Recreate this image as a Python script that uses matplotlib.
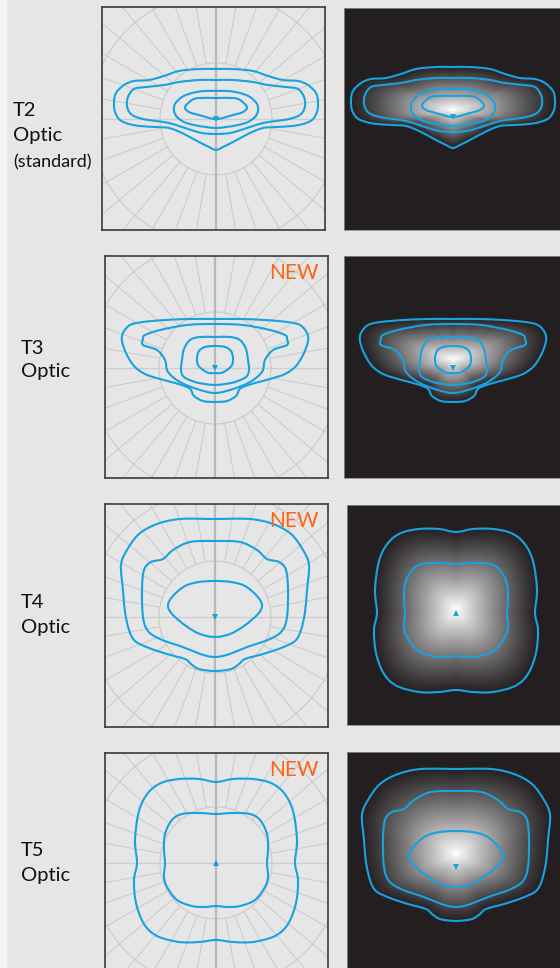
import matplotlib.pyplot as plt
import numpy as np
from matplotlib.patches import Rectangle, PathPatch
from matplotlib.path import Path

plt.rcParams['font.family'] = ['Lato', 'DejaVu Sans']

# isolines, right half only (mirror-symmetric), px from the aiming point, top -> bottom
t2_lines = [
    [(0, 50), (17, 50), (37, 48), (52, 43), (67, 39), (82, 38), (92, 34), (100, 26), (102, 17),
     (101, 7), (96, -1), (87, -5), (76, -7), (61, -8), (47, -9), (34, -14), (17, -23), (7, -28), (0, -31)],
    [(0, 39), (17, 39), (37, 37), (52, 34), (70, 32), (82, 30), (88, 22), (89, 13), (86, 6), (80, 2),
     (68, -1), (52, -3), (40, -6), (28, -10), (14, -14), (0, -15)],
    [(0, 28), (12, 28), (24, 26), (34, 22), (41, 15), (42, 8), (39, 2), (32, -3), (22, -6), (10, -8), (0, -9)],
    [(0, 21), (17, 21), (24, 19), (31, 12), (27, 7), (17, 4), (0, 0)],
]
t3_lines = [
    [(0, 49), (25, 49), (50, 48), (72, 46), (85, 43), (92, 35), (93, 27), (89, 15), (81, 2), (70, -6),
     (55, -11), (40, -15), (28, -19), (24, -22), (21, -28), (12, -33), (0, -34)],
    [(0, 44), (28, 43), (55, 38), (70, 33), (72, 29), (72, 23), (58, 18), (50, 8), (47, -4), (35, -14),
     (18, -21), (0, -25)],
    [(0, 31), (15, 31), (25, 28), (31, 19), (33, 8), (34, -2), (31, -9), (20, -14), (10, -16), (0, -17)],
    [(0, 22), (10, 21), (16, 17), (18, 10), (17, 3), (12, -2), (6, -5), (0, -5)],
]
t4_lines = [
    [(0, 98), (35, 98), (58, 93), (76, 83), (88, 67), (94, 52), (92, 27), (90, 5), (86, -13), (80, -24),
     (66, -31), (48, -37), (30, -42), (24, -47), (16, -52), (0, -54)],
    [(0, 76), (25, 75), (42, 67), (52, 58), (64, 55), (71, 47), (73, 27), (72, 0), (67, -14), (55, -22),
     (35, -29), (0, -40)],
    [(0, 36), (16, 35), (30, 31), (42, 21), (47, 12), (43, 3), (29, -9), (15, -17), (0, -20)],
]
t5_lines = [
    [(0, 81), (17, 84), (37, 84), (55, 80), (68, 70), (77, 52), (81, 23), (79, 0), (82, -17), (80, -40),
     (72, -61), (59, -73), (37, -79), (17, -79), (0, -77)],
    [(0, 49), (17, 50), (34, 49), (44, 43), (51, 29), (52, 13), (51, 0), (52, -14), (49, -24), (39, -37),
     (24, -43), (11, -44), (0, -43)],
]

optic_names = ['T2', 'T3', 'T4', 'T5']
optic_lines = [t2_lines, t3_lines, t4_lines, t5_lines]
optic_marker = ['v', 'v', 'v', '^']
is_new = [False, True, True, True]
# the photo panel of row 3 shows the T5 pattern and row 4 the T4 one
photo_optic = [0, 1, 3, 2]
glow_shift = [7, 9, 13, 3]   # bright spot sits a bit above the aiming point

W, H = 560, 968
BLUE = '#17a2e0'
GRID = '#cacaca'
DARK = '#231f20'

# (box x0, y0, x1, y1) and aiming point, in figure pixels
left_boxes = [((102, 7, 325, 230), (216, 119)), ((105, 256, 328, 478), (215, 368)),
              ((105, 504, 328, 727), (215, 617)), ((105, 753, 328, 976), (216, 863))]
right_boxes = [((344, 8, 561, 230), (453, 117)), ((344, 256, 561, 478), (453, 368)),
               ((347, 505, 561, 725), (456, 613)), ((347, 752, 561, 976), (456, 867))]
label_pos = [(13, 111, 135, 162), (21, 349, 372, None), (21, 603, 627, None), (21, 851, 875, None)]

fig = plt.figure(figsize=(W / 100, H / 100), dpi=100)
fig.patch.set_facecolor('#e6e6e6')
fig.patches.append(Rectangle((0, 0), 7 / W, 1, transform=fig.transFigure,
                             facecolor='#f4f4f4', edgecolor='none', zorder=0))


def px_axes(box, centre):
    x0, y0, x1, y1 = box
    cx, cy = centre
    ax = fig.add_axes([x0 / W, 1 - y1 / H, (x1 - x0) / W, (y1 - y0) / H])
    ax.set_xlim(x0 - cx, x1 - cx)
    ax.set_ylim(cy - y1, cy - y0)
    ax.set_xticks([])
    ax.set_yticks([])
    return ax


def closed(half):
    half = np.array(half, dtype=float)
    mirror = half[-2:0:-1] * [-1, 1]
    return np.vstack([half, mirror])


def draw_isoline(ax, half):
    # smooth closed curve through the read points (cubic Bezier segments)
    pts = closed(half)
    n = len(pts)
    verts = [pts[0]]
    codes = [Path.MOVETO]
    for j in range(n):
        p0, p1, p2, p3 = pts[j - 1], pts[j], pts[(j + 1) % n], pts[(j + 2) % n]
        verts += [p1 + (p2 - p0) / 6, p2 - (p3 - p1) / 6, p2]
        codes += [Path.CURVE4] * 3
    ax.add_patch(PathPatch(Path(verts, codes), fill=False, edgecolor=BLUE, lw=1.5,
                           joinstyle='round', zorder=3))


for i in range(4):
    # polar grid panel
    box, c = left_boxes[i]
    ax = px_axes(box, c)
    ax.set_facecolor('#e6e6e6')
    th = np.linspace(0, 2 * np.pi, 400)
    for r in (56, 126):
        ax.plot(r * np.cos(th), r * np.sin(th), color=GRID, lw=0.8, zorder=1)
    for a in np.deg2rad(np.arange(0, 360, 10)):
        ax.plot([56 * np.cos(a), 260 * np.cos(a)], [56 * np.sin(a), 260 * np.sin(a)],
                color=GRID, lw=0.7, zorder=1)
    ax.axhline(0, color='#cfcfcf', lw=1.0, zorder=1)
    ax.axvline(0, color='#b8b8b8', lw=1.6, zorder=1)
    for half in optic_lines[i]:
        draw_isoline(ax, half)
    ax.plot(0, 0, marker=optic_marker[i], color=BLUE, ms=4.5, mew=0, zorder=4)
    for s in ax.spines.values():
        s.set_color('#3a3a3a')
        s.set_linewidth(1.2)
    if is_new[i]:
        ax.text(0.96, 0.925, 'NEW', transform=ax.transAxes, ha='right', va='center',
                color='#ff6414', fontsize=15)

    # rendered light pattern panel
    k = photo_optic[i]
    box, c = right_boxes[i]
    ax = px_axes(box, c)
    ax.set_facecolor(DARK)
    x0, x1 = ax.get_xlim()
    y0, y1 = ax.get_ylim()
    gx, gy = np.meshgrid(np.linspace(x0, x1, 300), np.linspace(y0, y1, 300))
    outer = closed(optic_lines[k][0])
    ox, oy = outer[:, 0], outer[:, 1] - glow_shift[k]
    ang = np.arctan2(oy, ox)
    rad = np.hypot(ox, oy)
    order = np.argsort(ang)
    pa = gy - glow_shift[k]
    rmax = np.interp(np.arctan2(pa, gx), ang[order], rad[order], period=2 * np.pi)
    t = np.hypot(gx, pa) / (1.03 * rmax)
    v = np.clip(1 - t, 0, 1) ** 1.2
    dark = np.array([0x23, 0x1f, 0x20]) / 255
    img = dark + (1 - dark) * v[..., None]
    ax.imshow(img, extent=(x0, x1, y0, y1), origin='lower', aspect='auto',
              interpolation='bilinear', zorder=1)
    for half in optic_lines[k]:
        draw_isoline(ax, half)
    ax.plot(0, 0, marker=optic_marker[k], color=BLUE, ms=4.5, mew=0, zorder=4)
    for s in ax.spines.values():
        s.set_color('#8a8a8a')
        s.set_linewidth(0.6)

    # row label
    lx, y_a, y_b, y_c = label_pos[i]
    fig.text(lx / W, 1 - y_a / H, optic_names[i], fontsize=14.5, va='center', color='#111111')
    fig.text(lx / W, 1 - y_b / H, 'Optic', fontsize=14.5, va='center', color='#111111')
    if y_c is not None:
        fig.text(lx / W, 1 - y_c / H, '(standard)', fontsize=13, va='center', color='#111111')

fig.savefig('out.png', dpi=100, facecolor=fig.get_facecolor())
